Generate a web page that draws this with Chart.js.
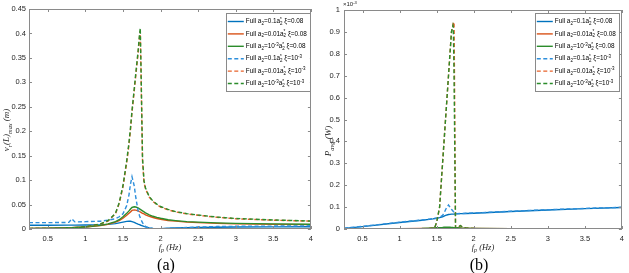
<!DOCTYPE html>
<html><head><meta charset="utf-8">
<script src="https://cdn.jsdelivr.net/npm/chart.js@4.4.1/dist/chart.umd.min.js"></script>
<style>
html,body{margin:0;padding:0;background:#fff;}
#wrap{position:relative;width:629px;height:273px;overflow:hidden;background:#fff;}
canvas{position:absolute;top:0;}
</style></head><body>
<div id="wrap">
<canvas id="ca" width="318" height="273" style="left:0;width:318px;height:273px"></canvas>
<canvas id="cb" width="309" height="273" style="left:320px;width:309px;height:273px"></canvas>
</div>
<script>
// ---------- data ----------
const seriesLabels = [
  'Full a_{2}=0.1a_{2}^{*} ξ=0.08',
  'Full a_{2}=0.01a_{2}^{*} ξ=0.08',
  'Full a_{2}=10^{-3}a_{2}^{*} ξ=0.08',
  'Full a_{2}=0.1a_{2}^{*} ξ=10^{-3}',
  'Full a_{2}=0.01a_{2}^{*} ξ=10^{-3}',
  'Full a_{2}=10^{-3}a_{2}^{*} ξ=10^{-3}'
];
const xTicks = [0.5, 1, 1.5, 2, 2.5, 3, 3.5, 4];
const yTicksA = [0, 0.05, 0.1, 0.15, 0.2, 0.25, 0.3, 0.35, 0.4, 0.45];
const yTicksB = [0, 0.1, 0.2, 0.3, 0.4, 0.5, 0.6, 0.7, 0.8, 0.9, 1];

// (a) v_r(L)_max (m)
const fpA = [0.25,0.5,0.78,0.82,0.86,1.0,1.2,1.3,1.4,1.45,1.5,1.55,1.58,1.6,1.62,1.65,1.67,1.7,1.72,1.73,1.74,1.76,1.78,1.8,1.85,1.9,1.95,2.0,2.1,2.2,2.35,2.5,2.75,3.0,3.5,4.0];
const solidBlueA   = [0.0078,0.0078,0.0079,0.0079,0.0079,0.0081,0.0087,0.0095,0.011,0.0125,0.014,0.0155,0.016,0.0158,0.015,0.0135,0.012,0.010,0.0088,0.0082,0.0076,0.0064,0.0052,0.0042,0.0022,0.001,0.0006,0.0008,0.0015,0.002,0.0027,0.0032,0.0037,0.004,0.0043,0.0045];
const solidOrangeA = [0.001,0.0015,0.0025,0.0027,0.003,0.004,0.007,0.0095,0.014,0.017,0.022,0.028,0.032,0.035,0.038,0.039,0.0385,0.037,0.0355,0.035,0.034,0.032,0.031,0.029,0.026,0.0235,0.0215,0.020,0.0175,0.016,0.014,0.013,0.0115,0.0105,0.0095,0.009];
const solidGreenA  = [0.001,0.0015,0.0025,0.0027,0.003,0.0042,0.0075,0.0105,0.015,0.019,0.025,0.032,0.037,0.041,0.044,0.0455,0.045,0.043,0.041,0.040,0.039,0.037,0.035,0.033,0.029,0.026,0.0237,0.022,0.019,0.0172,0.015,0.014,0.0125,0.0115,0.0105,0.0098];
const dashBlueA    = [0.013,0.013,0.0135,0.021,0.0145,0.015,0.016,0.018,0.021,0.025,0.031,0.048,0.07,0.092,0.107,0.088,0.065,0.038,0.027,0.023,0.019,0.013,0.008,0.005,0.002,0.0005,0.0003,0.0005,0.0012,0.002,0.003,0.004,0.005,0.0055,0.006,0.0065];
const dashOrangeA  = [0.0008,0.0012,0.002,0.0022,0.0025,0.0045,0.010,0.016,0.031,0.052,0.086,0.136,0.173,0.203,0.238,0.283,0.313,0.358,0.393,0.405,0.32,0.14,0.095,0.082,0.065,0.056,0.050,0.045,0.039,0.035,0.031,0.028,0.024,0.021,0.018,0.016];
const dashGreenA   = [0.0008,0.0012,0.002,0.0022,0.0025,0.0046,0.0105,0.017,0.032,0.054,0.089,0.14,0.177,0.207,0.242,0.287,0.318,0.362,0.398,0.411,0.33,0.145,0.098,0.084,0.066,0.057,0.051,0.046,0.040,0.0355,0.0315,0.0285,0.0245,0.0215,0.0185,0.0163];

// (b) P_avg (W), values in units of 1e-3
const fpB = [0.25,0.5,1.0,1.3,1.4,1.45,1.48,1.5,1.54,1.58,1.6,1.62,1.65,1.66,1.68,1.7,1.72,1.725,1.735,1.745,1.755,1.76,1.78,1.82,1.85,1.9,2.0,2.5,3.0,3.5,4.0];
const solidBlueB   = [0.003,0.011,0.030,0.040,0.044,0.046,0.048,0.049,0.052,0.056,0.059,0.062,0.065,0.066,0.067,0.068,0.068,0.068,0.068,0.069,0.069,0.069,0.069,0.070,0.070,0.071,0.072,0.080,0.087,0.093,0.098];
const solidOrangeB = [0.0002,0.0004,0.001,0.002,0.003,0.0035,0.004,0.0045,0.005,0.0055,0.006,0.006,0.006,0.006,0.0058,0.0055,0.005,0.005,0.0048,0.0046,0.0044,0.0043,0.004,0.0035,0.003,0.0025,0.002,0.0012,0.001,0.0008,0.0007];
const solidGreenB  = [0.0002,0.0005,0.0012,0.0025,0.004,0.0045,0.005,0.0055,0.0065,0.0072,0.0078,0.008,0.008,0.008,0.0077,0.0073,0.0068,0.0066,0.0064,0.0062,0.006,0.0058,0.0054,0.0047,0.004,0.0033,0.0026,0.0015,0.0012,0.001,0.0009];
const dashBlueB    = [0.004,0.012,0.031,0.041,0.045,0.047,0.049,0.050,0.053,0.062,0.072,0.088,0.105,0.110,0.100,0.090,0.082,0.080,0.077,0.074,0.072,0.071,0.070,0.071,0.071,0.072,0.073,0.081,0.088,0.094,0.099];
const dashOrangeB  = [0,0,0.0003,0.001,0.002,0.004,0.012,0.03,0.10,0.30,0.40,0.50,0.65,0.70,0.80,0.90,0.93,0.94,0.945,0.50,0.005,0.004,0.006,0.015,0.008,0.004,0.002,0.001,0.0008,0.0006,0.0005];
const dashGreenB   = [0,0,0.0003,0.001,0.002,0.004,0.012,0.03,0.10,0.30,0.40,0.50,0.65,0.70,0.80,0.90,0.93,0.92,0.70,0.35,0.005,0.004,0.006,0.016,0.009,0.004,0.002,0.001,0.0008,0.0006,0.0005];

// ---------- styles ----------
const colors = ['#0072BD','#D95319','#2B8C2B','#2E8FDB','#E8622A','#2B8C2B'];
const dashes = [[],[],[],[4,2.5],[4,2.5],[4,2.5]];
const tickFont = {family:'"Liberation Sans", Arial, sans-serif', size:7.5};
const tickColor = '#1e1e1e';
const fmt = v => String(parseFloat(Number(v).toFixed(4)));

// rich text: _{sub} ^{sup}; sub immediately followed by sup is stacked
function parseRich(s){
  const out=[]; let i=0, buf='';
  while(i<s.length){
    if((s[i]==='_'||s[i]==='^') && s[i+1]==='{'){
      if(buf){out.push({k:'n',s:buf});buf='';}
      const j=s.indexOf('}',i);
      const tok={k:s[i]==='_'?'sub':'sup',s:s.slice(i+2,j)};
      const prev=out[out.length-1];
      if(tok.k==='sup' && prev && prev.k==='sub' && !prev.sup){prev.sup=tok.s;}
      else out.push(tok);
      i=j+1;
    } else {buf+=s[i];i++;}
  }
  if(buf) out.push({k:'n',s:buf});
  return out;
}
function richFont(st,size,fam){return st+' '+size+'px '+fam;}
function richWidth(ctx,s,size,fam,st){
  let w=0;
  for(const t of parseRich(s)){
    if(t.k==='n'){ctx.font=richFont(st,size,fam);w+=ctx.measureText(t.s).width;}
    else{ctx.font=richFont(st,size*0.7,fam);let a=ctx.measureText(t.s).width;
      if(t.sup){a=Math.max(a,ctx.measureText(t.sup).width);} w+=a;}
  }
  return w;
}
function drawRich(ctx,s,x,y,size,fam,st,align){
  let w=richWidth(ctx,s,size,fam,st);
  let cx = align==='center'? x-w/2 : (align==='right'? x-w : x);
  ctx.textAlign='left'; ctx.textBaseline='alphabetic';
  for(const t of parseRich(s)){
    if(t.k==='n'){ctx.font=richFont(st,size,fam);ctx.fillText(t.s,cx,y);cx+=ctx.measureText(t.s).width;}
    else{
      ctx.font=richFont(st,size*0.7,fam);
      let a=ctx.measureText(t.s).width;
      if(t.k==='sub'){ctx.fillText(t.s,cx,y+size*0.28);
        if(t.sup){ctx.fillText(t.sup,cx,y-size*0.38);a=Math.max(a,ctx.measureText(t.sup).width);} }
      else ctx.fillText(t.s,cx,y-size*0.38);
      cx+=a;
    }
  }
}

const framePlugin = {
  id:'frame',
  afterDatasetsDraw(chart){
    const {ctx,chartArea:a,scales}=chart;
    ctx.save();
    ctx.strokeStyle='#8a8a8a';ctx.lineWidth=1;
    ctx.strokeRect(Math.round(a.left)+0.5,Math.round(a.top)+0.5,Math.round(a.right-a.left)-1,Math.round(a.bottom-a.top)-1);
    ctx.beginPath();
    for(const t of scales.x.ticks){const px=Math.round(scales.x.getPixelForValue(t.value))+0.5;
      ctx.moveTo(px,a.bottom);ctx.lineTo(px,a.bottom-3);ctx.moveTo(px,a.top);ctx.lineTo(px,a.top+3);}
    for(const t of scales.y.ticks){const py=Math.round(scales.y.getPixelForValue(t.value))+0.5;
      ctx.moveTo(a.left,py);ctx.lineTo(a.left+3,py);ctx.moveTo(a.right,py);ctx.lineTo(a.right-3,py);}
    ctx.stroke();
    ctx.restore();
  }
};
const legendPlugin = {
  id:'richLegend',
  afterDraw(chart){
    const {ctx,chartArea:a}=chart;
    const o=chart.options.plugins.richLegend;
    const fam='"Liberation Sans", Arial, sans-serif', size=6.4;
    ctx.save();
    let maxW=0;
    chart.data.datasets.forEach(d=>{maxW=Math.max(maxW,richWidth(ctx,d.label,size,fam,'normal'));});
    const w=20+maxW+3, rowH=12.4, h=16+5*rowH;
    const right=a.right-o.inR, top=a.top+o.inT, left=right-w;
    ctx.fillStyle='#fff';ctx.fillRect(left,top,w,h);
    ctx.strokeStyle='#8a8a8a';ctx.lineWidth=1;ctx.strokeRect(Math.round(left)+0.5,Math.round(top)+0.5,Math.round(w),Math.round(h));
    chart.data.datasets.forEach((d,i)=>{
      const cy=top+8+i*rowH;
      ctx.strokeStyle=d.borderColor;ctx.lineWidth=1.4;ctx.setLineDash(d.borderDash||[]);
      ctx.beginPath();ctx.moveTo(left+2,cy+0.5);ctx.lineTo(left+18,cy+0.5);ctx.stroke();
      ctx.setLineDash([]);
      ctx.fillStyle='#000';
      drawRich(ctx,d.label,left+20,cy+2.2,size,fam,'normal','left');
    });
    ctx.restore();
  }
};
const textPlugin = {
  id:'richText',
  afterDraw(chart){
    const {ctx,chartArea:a}=chart;
    const o=chart.options.plugins.richText;
    ctx.save();ctx.fillStyle='#262626';
    const serif='"Liberation Serif", "Times New Roman", serif';
    // x title
    drawRich(ctx,o.xTitle,(a.left+a.right)/2,o.xTitleY,8.5,serif,'italic','center');
    // y title rotated
    ctx.save();ctx.translate(o.yTitleX,o.yTitleY);ctx.rotate(-Math.PI/2);
    drawRich(ctx,o.yTitle,0,0,9,serif,'italic','center');ctx.restore();
    // panel label
    ctx.fillStyle='#000';
    drawRich(ctx,o.panel,(a.left+a.right)/2-4,o.panelY,16,serif,'normal','center');
    if(o.mult){ctx.fillStyle='#262626';drawRich(ctx,o.mult,a.left-1,6,6,'"Liberation Sans", Arial, sans-serif','normal','left');}
    ctx.restore();
  }
};

function makeChart(id,x,series,yTicks,ymax,lay,txt){
  const datasets=series.map((s,i)=>({
    label:seriesLabels[i],
    data:x.map((xv,j)=>({x:xv,y:s[j]})),
    borderColor:colors[i],borderWidth:1.4,borderDash:dashes[i],
    pointRadius:0,fill:false,tension:0,order:6-i
  }));
  return new Chart(document.getElementById(id),{
    type:'line',data:{datasets},
    options:{
      responsive:false,animation:false,devicePixelRatio:1,
      layout:{padding:{left:0,right:lay.padR,top:lay.padT,bottom:lay.padB}},
      plugins:{legend:{display:false},tooltip:{enabled:false},
        richLegend:{inR:lay.legR,inT:lay.legT},richText:txt},
      scales:{
        x:{type:'linear',min:0.25,max:4,
          afterBuildTicks:s=>{s.ticks=xTicks.map(v=>({value:v}));},
          afterFit:s=>{s.height=lay.xh;},
          grid:{display:false,drawTicks:false},border:{display:false},
          ticks:{font:tickFont,color:tickColor,padding:5,maxRotation:0,autoSkip:false,callback:v=>fmt(v)}},
        y:{type:'linear',min:0,max:ymax,
          afterBuildTicks:s=>{s.ticks=yTicks.map(v=>({value:v}));},
          afterFit:s=>{s.width=lay.yw;},
          grid:{display:false,drawTicks:false},border:{display:false},
          ticks:{font:tickFont,color:tickColor,padding:lay.yPad,autoSkip:false,callback:v=>fmt(v)}}
      }
    },
    plugins:[framePlugin,legendPlugin,textPlugin]
  });
}

makeChart('ca',fpA,[solidBlueA,solidOrangeA,solidGreenA,dashBlueA,dashOrangeA,dashGreenA],yTicksA,0.45,
  {padR:5,padT:9,padB:24,xh:20,yw:29,yPad:3,legR:1,legT:4},
  {xTitle:'f_{p} (Hz)',xTitleY:250,yTitle:'v_{r}(L)_{max} (m)',yTitleX:9,yTitleY:130,panel:'(a)',panelY:270});
makeChart('cb',fpB,[solidBlueB,solidOrangeB,solidGreenB,dashBlueB,dashOrangeB,dashGreenB],yTicksB,1,
  {padR:2,padT:10,padB:24,xh:20,yw:24,yPad:4,legR:3,legT:3},
  {xTitle:'f_{p} (Hz)',xTitleY:250,yTitle:'P_{avg} (W)',yTitleX:11,yTitleY:141,panel:'(b)',panelY:270,mult:'×10^{-3}'});
</script>
</body></html>
